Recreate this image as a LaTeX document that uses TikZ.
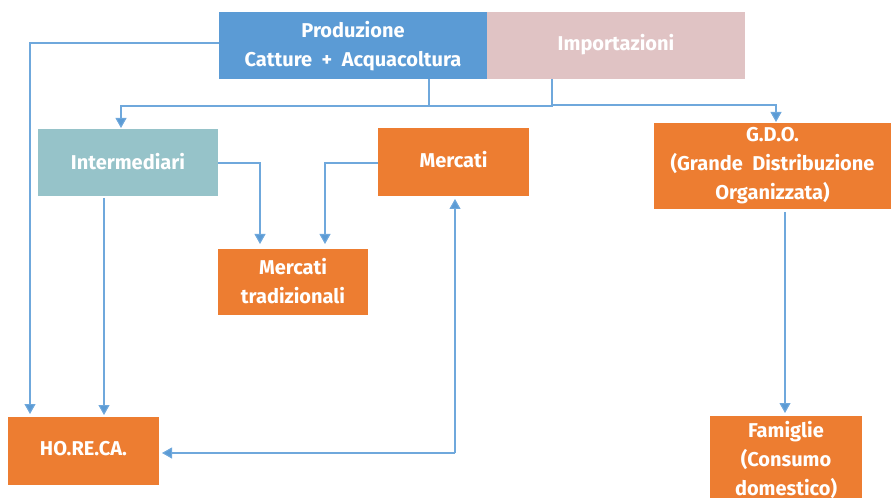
\documentclass[tikz,border=0pt]{standalone}
\usepackage{fontspec}
\setmainfont{Fira Sans}
\usetikzlibrary{arrows.meta}
\definecolor{cblue}{HTML}{5B9BD5}
\definecolor{cpink}{HTML}{E0C3C4}
\definecolor{cteal}{HTML}{96C3C9}
\definecolor{corange}{HTML}{ED7D31}
\definecolor{cline}{HTML}{6FA8DC}
\begin{document}
\begin{tikzpicture}[x=1bp,y=-1bp,
  box/.style={inner sep=0pt, text=white, align=center,
    font=\fontsize{20bp}{29bp}\selectfont\bfseries},
  conn/.style={draw=cline, line width=1.1bp, -{Triangle[length=10bp,width=11bp,fill=cblue]}},
  plain/.style={draw=cline, line width=1.1bp}]
\useasboundingbox (0,0) rectangle (891,498);
\fill[cblue] (219,12) rectangle (487,79);
\node[box] (prod) at (353,46) {Produzione\\Catture \ + \ Acquacoltura};
\fill[cpink] (487,12) rectangle (745,79);
\node[box] (imp) at (616,45) {Importazioni};
\fill[cteal] (38,129) rectangle (218,196);
\node[box] (inter) at (128,162) {Intermediari};
\fill[corange] (378,128) rectangle (529,196);
\node[box] (merc) at (453.5,160) {Mercati};
\fill[corange] (654,123) rectangle (891,209);
\node[box] (gdo) at (772.5,166) {G.D.O.\\(Grande \ Distribuzione\\Organizzata)};
\fill[corange] (218,249) rectangle (368,315);
\node[box] (mtrad) at (293,281) {Mercati\\tradizionali};
\fill[corange] (8,417) rectangle (159,485);
\node[box] (horeca) at (83.5,449) {HO.RE.CA.};
\fill[corange] (710,416) rectangle (862,505);
\node[box] (fam) at (786,460) {Famiglie\\(Consumo\\domestico)};
% connectors
\coordinate (pL) at (219,43);
\coordinate (pB) at (429,79);
\coordinate (iB) at (552,79);
\coordinate (hTop1) at (30,414);
\coordinate (hTop2) at (104,415);
\coordinate (interT) at (121,128);
\coordinate (gdoT) at (776,122);
\coordinate (interR) at (218,163);
\coordinate (mercL) at (378,163);
\coordinate (mtT1) at (260,244);
\coordinate (mtT2) at (325,244);
\coordinate (interB) at (104,198);
\coordinate (gdoB) at (785,212);
\coordinate (famT) at (785,413);
\coordinate (mercB) at (455,199);
\coordinate (hR) at (162,453);
\coordinate (corner) at (455,453);
\draw[conn] (pL) -| (hTop1);
\draw[plain] (pB) |- (429,106) -| (iB);
\draw[conn] (429,106) -| (interT);
\draw[conn] (552,105) -| (gdoT);
\draw[conn] (interR) -| (mtT1);
\draw[conn] (mercL) -| (mtT2);
\draw[conn] (interB) -- (hTop2);
\draw[conn] (gdoB) -- (famT);
\draw[conn] (corner) -- (mercB);
\draw[conn] (corner) -- (hR);
\end{tikzpicture}
\end{document}
